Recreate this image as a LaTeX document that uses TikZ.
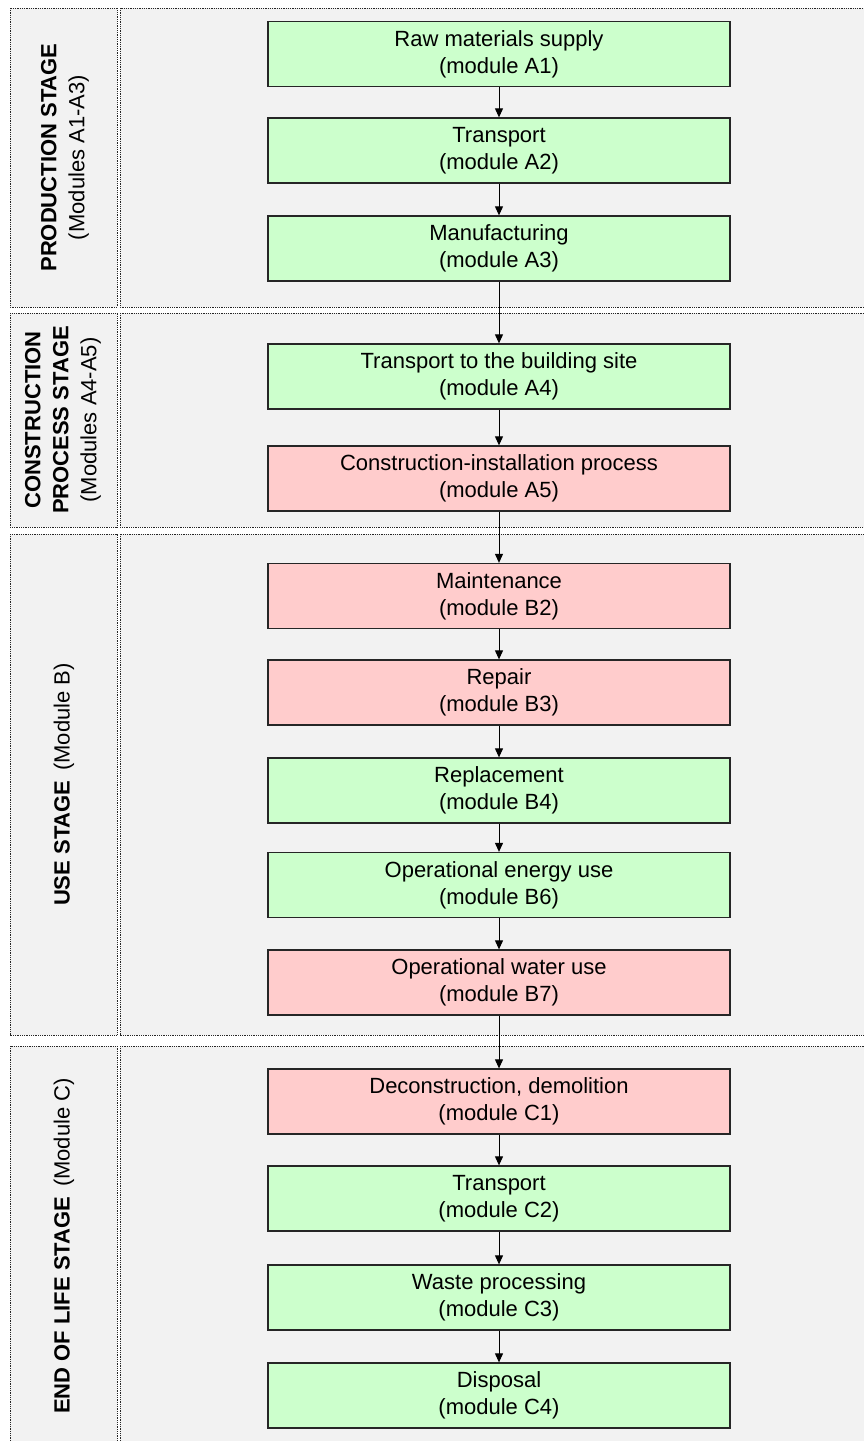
\documentclass[tikz,border=0pt]{standalone}
\usepackage{fontspec}
\setmainfont{Liberation Sans}
\usetikzlibrary{arrows.meta}
\definecolor{panelgray}{HTML}{F2F2F2}
\definecolor{okgreen}{HTML}{CCFFCC}
\definecolor{flagred}{HTML}{FFCCCC}
\definecolor{boxline}{HTML}{262626}
\tikzset{
    panel/.style={draw=black!85, fill=panelgray, line width=0.9pt, dash pattern=on 0.9pt off 0.9pt},
    module/.style={draw=boxline, line width=1.3pt, minimum width=462pt, minimum height=65pt,
        inner sep=0pt, align=center, font=\fontsize{22}{27}\selectfont},
    greenbox/.style={module, fill=okgreen},
    redbox/.style={module, fill=flagred},
    stagelabel/.style={rotate=90, align=center, font=\fontsize{22}{28}\selectfont},
    flow/.style={-{Triangle[length=9pt, width=8pt]}, line width=1pt}
}
\begin{document}
\begin{tikzpicture}[x=1pt, y=-1pt]
    \useasboundingbox (0,0) rectangle (864,1441);
    \clip (0,0) rectangle (864,1441);
    \fill[white] (0,0) rectangle (864,1441);

    % stage panels
    \draw[panel] (10,8) rectangle (117,307);
    \draw[panel] (120,8) rectangle (872,307);
    \draw[panel] (10,313) rectangle (117,527);
    \draw[panel] (120,313) rectangle (872,527);
    \draw[panel] (10,534) rectangle (117,1035);
    \draw[panel] (120,534) rectangle (872,1035);
    \draw[panel] (10,1046) rectangle (117,1450);
    \draw[panel] (120,1046) rectangle (872,1450);

    % stage labels
    \node[stagelabel] (prodlabel) at (65,157.5) {\textbf{PRODUCTION STAGE}\\(Modules A1-A3)};
    \node[stagelabel] (conslabel) at (63,420) {\textbf{CONSTRUCTION}\\\textbf{PROCESS STAGE}\\(Modules A4-A5)};
    \node[stagelabel] (uselabel) at (64,784.5) {\textbf{USE STAGE}\ \,(Module B)};
    \node[stagelabel] (eollabel) at (64,1246) {\textbf{END OF LIFE STAGE}\ \,(Module C)};

    % modules
    \node[greenbox] (a1) at (499,54) {Raw materials supply\\(module A1)};
    \node[greenbox] (a2) at (499,150.5) {Transport\\(module A2)};
    \node[greenbox] (a3) at (499,248.5) {Manufacturing\\(module A3)};
    \node[greenbox] (a4) at (499,376.5) {Transport to the building site\\(module A4)};
    \node[redbox] (a5) at (499,478.5) {Construction-installation process\\(module A5)};
    \node[redbox] (b2) at (499,596) {Maintenance\\(module B2)};
    \node[redbox] (b3) at (499,692.5) {Repair\\(module B3)};
    \node[greenbox] (b4) at (499,790.5) {Replacement\\(module B4)};
    \node[greenbox] (b6) at (499,885) {Operational energy use\\(module B6)};
    \node[redbox] (b7) at (499,982.5) {Operational water use\\(module B7)};
    \node[redbox] (c1) at (499,1101.5) {Deconstruction, demolition\\(module C1)};
    \node[greenbox] (c2) at (499,1198.5) {Transport\\(module C2)};
    \node[greenbox] (c3) at (499,1297.5) {Waste processing\\(module C3)};
    \node[greenbox] (c4) at (499,1395.5) {Disposal\\(module C4)};

    % flow between modules
    \draw[flow] (a1) -- (a2);
    \draw[flow] (a2) -- (a3);
    \draw[flow] (a3) -- (a4);
    \draw[flow] (a4) -- (a5);
    \draw[flow] (a5) -- (b2);
    \draw[flow] (b2) -- (b3);
    \draw[flow] (b3) -- (b4);
    \draw[flow] (b4) -- (b6);
    \draw[flow] (b6) -- (b7);
    \draw[flow] (b7) -- (c1);
    \draw[flow] (c1) -- (c2);
    \draw[flow] (c2) -- (c3);
    \draw[flow] (c3) -- (c4);
\end{tikzpicture}
\end{document}
